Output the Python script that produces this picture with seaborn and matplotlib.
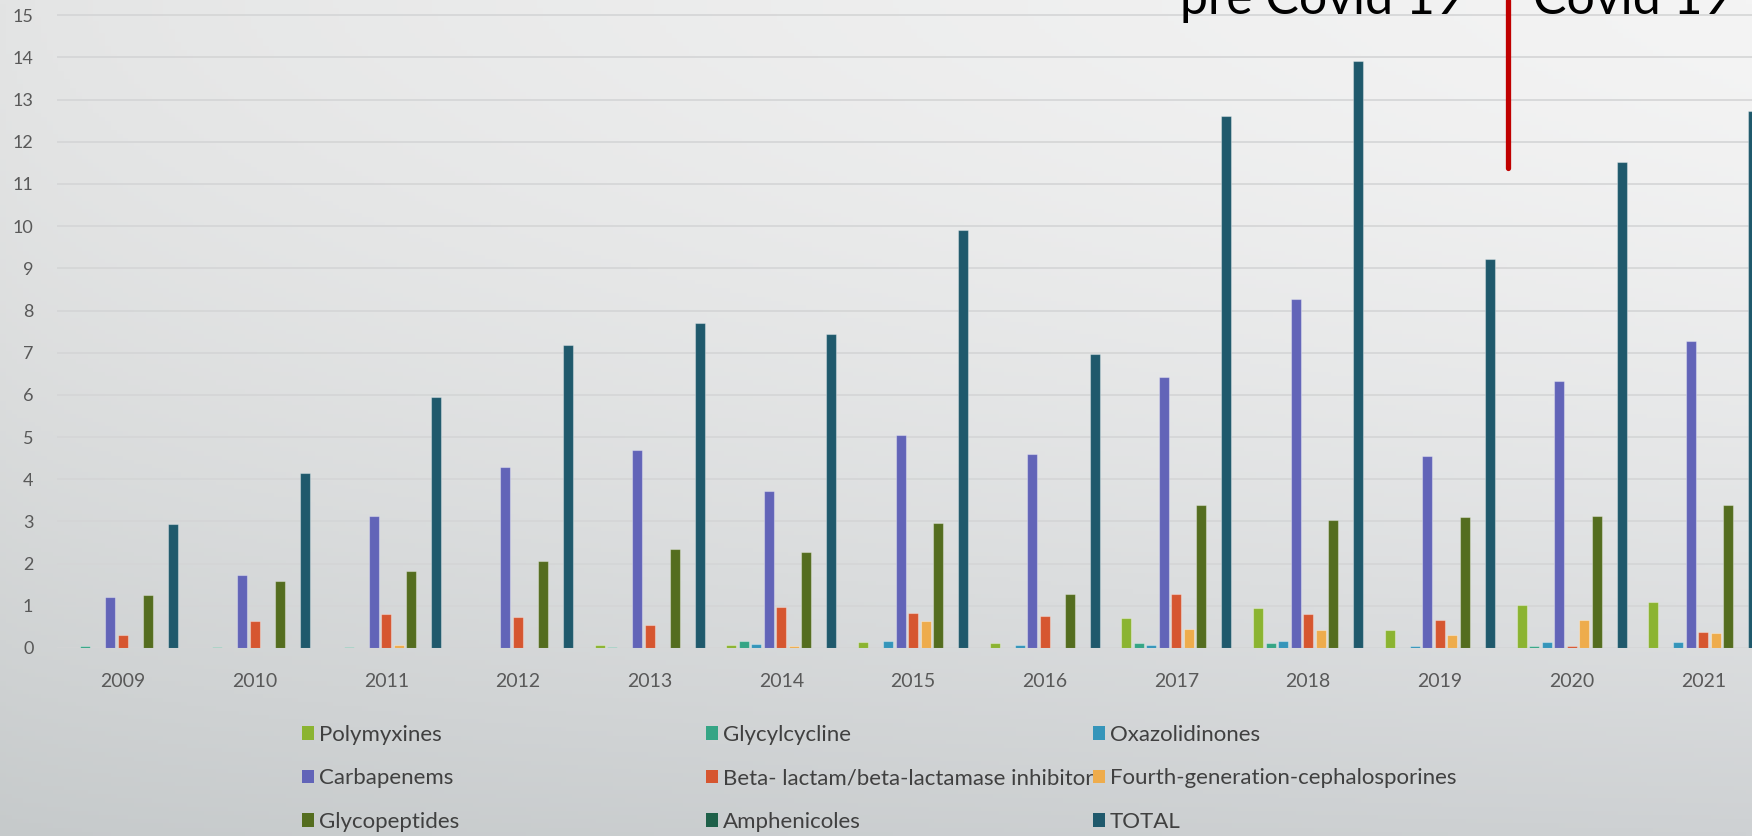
import numpy as np
import pandas as pd
import matplotlib
matplotlib.use("Agg")
import matplotlib.pyplot as plt
from matplotlib.colors import to_rgb
import seaborn as sns

# data
years = [str(y) for y in range(2009, 2022)]
polymyxines = [0, 0, 0.01, 0.01, 0.06, 0.07, 0.15, 0.12, 0.71, 0.95, 0.43, 1.03, 1.08]
glycylcycline = [0.04, 0.03, 0.02, 0.01, 0.02, 0.17, 0.0, 0.0, 0.13, 0.12, 0.01, 0.05, 0.01]
oxazolidinones = [0, 0, 0, 0, 0, 0.09, 0.16, 0.07, 0.08, 0.17, 0.04, 0.14, 0.14]
carbapenems = [1.21, 1.73, 3.13, 4.30, 4.70, 3.73, 5.05, 4.59, 6.42, 8.28, 4.54, 6.34, 7.28]
beta_lactam = [0.31, 0.64, 0.80, 0.73, 0.54, 0.98, 0.83, 0.77, 1.28, 0.81, 0.66, 0.04, 0.38]
fourth_gen = [0.01, 0.01, 0.06, 0.0, 0.0, 0.04, 0.64, 0.01, 0.46, 0.43, 0.32, 0.67, 0.35]
glycopeptides = [1.25, 1.60, 1.82, 2.07, 2.35, 2.27, 2.96, 1.29, 3.38, 3.03, 3.10, 3.12, 3.38]
amphenicoles = [0.01, 0.01, 0, 0, 0, 0, 0.01, 0, 0, 0, 0, 0, 0]
total = [2.94, 4.16, 5.96, 7.18, 7.71, 7.45, 9.91, 6.98, 12.61, 13.91, 9.23, 11.51, 12.73]

class_names = ["Polymyxines", "Glycylcycline", "Oxazolidinones", "Carbapenems",
               "Beta- lactam/beta-lactamase inhibitor", "Fourth-generation-cephalosporines",
               "Glycopeptides", "Amphenicoles", "TOTAL"]
series = [polymyxines, glycylcycline, oxazolidinones, carbapenems, beta_lactam,
          fourth_gen, glycopeptides, amphenicoles, total]
colors = ["#8BB431", "#35A585", "#3595BA", "#6264B8", "#D65630",
          "#EEAC4C", "#546D1F", "#1E6049", "#1F596C"]

covid_split = 10.52      # position of the red divider (between 2019 and 2020)
covid_line_bottom = 11.37

rows = []
for name, vals in zip(class_names, series):
    for yr, v in zip(years, vals):
        rows.append({"year": yr, "class": name, "value": v})
df = pd.DataFrame(rows)

sns.set_style("white")
plt.rcParams['font.family'] = ['Lato', 'DejaVu Sans']

W, H = 1752, 836
fig = plt.figure(figsize=(W / 100, H / 100), dpi=100)

# gray gradient background
bg = fig.add_axes([0, 0, 1, 1], zorder=-10)
tl, tr = np.array(to_rgb("#E3E4E4")), np.array(to_rgb("#F4F4F4"))
bl, br = np.array(to_rgb("#C6CACB")), np.array(to_rgb("#CED1D3"))
yy = np.linspace(0, 1, 200)[:, None, None] ** 1.6
xx = np.linspace(0, 1, 300)[None, :, None] ** 0.7
top = tl * (1 - xx) + tr * xx
bot = bl * (1 - xx) + br * xx
img = top * (1 - yy) + bot * yy
bg.imshow(img, aspect="auto", extent=[0, 1, 0, 1], origin="upper")
bg.axis("off")

ax_left = 57 / W
ax_bottom = 1 - 648 / H
slot = 131.7 / W
ax = fig.add_axes([ax_left, ax_bottom, slot * 13, 1 - ax_bottom])
ax.patch.set_alpha(0)

sns.barplot(data=df, x="year", y="value", hue="class", palette=colors,
            width=0.854, gap=0.2, ax=ax, edgecolor=(1, 1, 1, 0.35), linewidth=0.8,
            saturation=1, errorbar=None, zorder=3)

ax.set_xlim(-0.5, 12.5)
ax.set_ylim(0, 15.36)
ax.set_yticks(range(0, 16))
ax.yaxis.grid(True, color="#D4D5D6", linewidth=1.2, zorder=0)
ax.set_axisbelow(True)
for s in ax.spines.values():
    s.set_visible(False)
ax.set_xlabel("")
ax.set_ylabel("")
ax.tick_params(axis="x", length=0, pad=18, labelsize=14, labelcolor="#595959")
ax.tick_params(axis="y", length=0, pad=17, labelsize=13, labelcolor="#595959")

# red pre/post covid divider
ax.vlines(covid_split, covid_line_bottom, 15.36, color="#C00000", linewidth=3.8,
          capstyle="round", zorder=5, clip_on=False)
fig.text(1180 / W, 1 - 14 / H, "pre Covid 19", fontsize=36,
         color="black", va="baseline", ha="left")
fig.text(1533 / W, 1 - 14 / H, "Covid 19", fontsize=36,
         color="black", va="baseline", ha="left")

handles, labels = ax.get_legend_handles_labels()
ax.get_legend().remove()
col_x = [302, 706, 1093]
for i, x0 in enumerate(col_x):
    hs = [handles[i], handles[i + 3], handles[i + 6]]
    ls = [labels[i], labels[i + 3], labels[i + 6]]
    leg = fig.legend(hs, ls, loc="upper left", bbox_to_anchor=(x0 / W, 1 - 725 / H),
                     frameon=False, fontsize=16, handlelength=0.55, handleheight=0.55,
                     handletextpad=0.2, labelspacing=1.05, borderpad=0, borderaxespad=0)
    for t in leg.get_texts():
        t.set_color("#404040")
    for p in leg.get_patches():
        p.set_edgecolor("none")

fig.savefig("out.png", dpi=100)
